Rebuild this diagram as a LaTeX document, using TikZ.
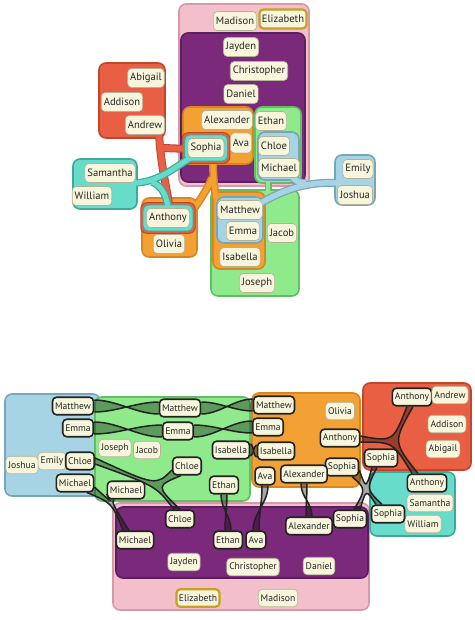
\documentclass[tikz,border=0pt]{standalone}
\usepackage{fontspec}
\setmainfont{PT Sans}
\usetikzlibrary{calc}
\pgfdeclarelayer{bg}
\pgfsetlayers{bg,main}
\definecolor{pinkF}{HTML}{F3BFCB}\definecolor{pinkB}{HTML}{D49AAA}
\definecolor{purpF}{HTML}{7B2A7B}\definecolor{purpB}{HTML}{5B1F5E}
\definecolor{orF}{HTML}{F3A135}\definecolor{orB}{HTML}{D9861E}
\definecolor{grF}{HTML}{8FEA8C}\definecolor{grB}{HTML}{62BD66}
\definecolor{blF}{HTML}{A7D4E4}\definecolor{blB}{HTML}{77A6BA}
\definecolor{rdF}{HTML}{E95F43}\definecolor{rdB}{HTML}{C2452D}
\definecolor{tlF}{HTML}{67DCCB}\definecolor{tlB}{HTML}{3EAA9B}
\definecolor{goldB}{HTML}{C7A020}
\definecolor{ndF}{HTML}{F7F5DC}\definecolor{ndB}{HTML}{B5B198}
\definecolor{txt}{HTML}{262626}\definecolor{blk}{HTML}{222222}
\newcommand\hbund[3]{%
 \fill[bfill] ([yshift=6pt]#1.east) .. controls +(#3,0) and +(-#3,0) .. ([yshift=-6pt]#2.west) -- ([yshift=6pt]#2.west) .. controls +(-#3,0) and +(#3,0) .. ([yshift=-6pt]#1.east) -- cycle;
 \draw[bline] ([yshift=6pt]#1.east) .. controls +(#3,0) and +(-#3,0) .. ([yshift=-6pt]#2.west) ([yshift=6pt]#2.west) .. controls +(-#3,0) and +(#3,0) .. ([yshift=-6pt]#1.east);}
\newcommand\vbund[3]{%
 \fill[bfill] ([xshift=-3pt]#1.south) .. controls +(0,#3) and +(0,-#3) .. ([xshift=3pt]#2.north) -- ([xshift=-3pt]#2.north) .. controls +(0,-#3) and +(0,#3) .. ([xshift=3pt]#1.south) -- cycle;
 \draw[bline] ([xshift=-3pt]#1.south) .. controls +(0,#3) and +(0,-#3) .. ([xshift=3pt]#2.north) ([xshift=-3pt]#2.north) .. controls +(0,-#3) and +(0,#3) .. ([xshift=3pt]#1.south);}
\newcommand\kelpThree[7]{%
 \fill[bfill] (#2) .. controls (#7) and (#7) .. (#3) -- (#4) .. controls (#7) and (#7) .. (#5) -- (#6) .. controls (#7) and (#7) .. (#1) -- cycle;
 \draw[bline] (#2) .. controls (#7) and (#7) .. (#3) (#4) .. controls (#7) and (#7) .. (#5) (#6) .. controls (#7) and (#7) .. (#1);}
\newcommand\kelpFour[9]{%
 \fill[bfill] (#2) .. controls (#9) and (#9) .. (#3) -- (#4) .. controls (#9) and (#9) .. (#5) -- (#6) .. controls (#9) and (#9) .. (#7) -- (#8) .. controls (#9) and (#9) .. (#1) -- cycle;
 \draw[bline] (#2) .. controls (#9) and (#9) .. (#3) (#4) .. controls (#9) and (#9) .. (#5) (#6) .. controls (#9) and (#9) .. (#7) (#8) .. controls (#9) and (#9) .. (#1);}
\begin{document}
\begin{tikzpicture}[x=1pt,y=-1pt,
 nd/.style={draw=ndB,fill=ndF,line width=0.6pt,rounded corners=4pt,inner xsep=2.5pt,inner ysep=2pt,minimum height=17.5pt,font=\fontsize{9.6}{11}\selectfont,text=txt},
 ndt/.style={nd,minimum height=19pt,font=\fontsize{10.6}{12}\selectfont},
 ndk/.style={nd,draw=blk,line width=1.6pt},
 ndg/.style={nd,draw=goldB,line width=2.2pt},
 setbox/.style={line width=1.6pt,rounded corners=7pt},
 pinkS/.style={setbox,draw=pinkB,fill=pinkF},
 purpS/.style={setbox,draw=purpB,fill=purpF},
 orS/.style={setbox,draw=orB,fill=orF},
 grS/.style={setbox,draw=grB,fill=grF},
 blS/.style={setbox,draw=blB,fill=blF},
 rdS/.style={setbox,draw=rdB,fill=rdF},
 tlS/.style={setbox,draw=tlB,fill=tlF},
 bfill/.style={fill=black,fill opacity=0.34},
 bline/.style={draw=blk,line width=1.5pt},
 stemo/.style={line width=#1,line cap=butt},
]
\useasboundingbox (0,0) rectangle (474,620);
% ---------- top diagram nodes
\node[ndt] (tMad) at (235,21) {Madison};
\node[ndt,draw=goldB,line width=2.2pt] (tEli) at (283,19) {Elizabeth};
\node[ndt] (tJay) at (241,47) {Jayden};
\node[ndt] (tChr) at (259,71) {Christopher};
\node[ndt] (tDan) at (241,94) {Daniel};
\node[ndt] (tAle) at (227,120) {Alexander};
\node[ndt,minimum height=20pt] (tAva) at (241,143) {Ava};
\node[ndt] (tSop) at (206,148) {Sophia};
\node[ndt] (tEth) at (271,121) {Ethan};
\node[ndt] (tChl) at (274,146) {Chloe};
\node[ndt] (tMic) at (279,168) {Michael};
\node[ndt] (tAbi) at (146,78) {Abigail};
\node[ndt] (tAdd) at (122,102) {Addison};
\node[ndt] (tAnd) at (145,125) {Andrew};
\node[ndt] (tSam) at (110,173) {Samantha};
\node[ndt] (tWil) at (92,196) {William};
\node[ndt] (tAnt) at (168,218) {Anthony};
\node[ndt] (tOli) at (169,244) {Olivia};
\node[ndt] (tMat) at (240,210) {Matthew};
\node[ndt] (tEmm) at (243,231) {Emma};
\node[ndt] (tIsa) at (240,257) {Isabella};
\node[ndt] (tJac) at (282,233) {Jacob};
\node[ndt] (tJos) at (257,283) {Joseph};
\node[ndt] (tEmi) at (358,169) {Emily};
\node[ndt] (tJsh) at (355,195) {Joshua};
% ---------- bottom diagram nodes
\node[ndk] (bMat) at (73,406) {Matthew};
\node[ndk] (bEmm) at (78,428) {Emma};
\node[nd] (bJos) at (22,465) {Joshua};
\node[nd] (bEmi) at (52,461) {Emily};
\node[ndk] (bChl) at (80,461) {Chloe};
\node[ndk] (bMic) at (75,483) {Michael};
\node[ndk] (gMat) at (180,408) {Matthew};
\node[ndk] (gEmm) at (178,431) {Emma};
\node[nd] (gJose) at (115,448) {Joseph};
\node[nd] (gJac) at (147,450) {Jacob};
\node[ndk] (gIsa) at (231,450) {Isabella};
\node[ndk] (gChl) at (187,466) {Chloe};
\node[ndk] (gMic) at (126,490) {Michael};
\node[ndk] (gEth) at (224,485) {Ethan};
\node[ndk] (oMat) at (274,405) {Matthew};
\node[ndk] (oEmm) at (268,427) {Emma};
\node[ndk] (oIsa) at (276,451) {Isabella};
\node[nd] (oOli) at (340,411) {Olivia};
\node[ndk] (oAnt) at (340,438) {Anthony};
\node[ndk] (oSop) at (342,467) {Sophia};
\node[ndk] (oAva) at (265,476) {Ava};
\node[ndk] (oAle) at (304,474) {Alexander};
\node[ndk] (rAnt) at (412,397) {Anthony};
\node[nd] (rAnd) at (450,395) {Andrew};
\node[nd] (rAdd) at (447,424) {Addison};
\node[nd] (rAbi) at (443,449) {Abigail};
\node[ndk] (rSop) at (381,458) {Sophia};
\node[ndk] (tlAnt) at (427,483) {Anthony};
\node[nd] (tlSam) at (430,503) {Samantha};
\node[nd] (tlWil) at (423,524) {William};
\node[ndk] (tlSop) at (388,514) {Sophia};
\node[ndk] (pMic) at (135,540) {Michael};
\node[ndk] (pChl) at (180,519) {Chloe};
\node[ndk] (pEth) at (228,540) {Ethan};
\node[ndk] (pAva) at (256,540) {Ava};
\node[ndk] (pAle) at (309,526) {Alexander};
\node[ndk] (pSop) at (350,519) {Sophia};
\node[nd] (pJay) at (184,562) {Jayden};
\node[nd] (pChr) at (253,567) {Christopher};
\node[nd] (pDan) at (319,566) {Daniel};
\node[ndg] (kEli) at (198,598) {Elizabeth};
\node[nd] (kMad) at (278,598) {Madison};

\begin{pgfonlayer}{bg}
% ===== top diagram sets
\draw[pinkS] (179,4) rectangle (309,186);
\draw[purpS] (181,33) rectangle (305,182);
% green
\draw[stemo=7pt,draw=grB] (268,176) -- (268,196);
\draw[grS] (255,107) rectangle (301,183);
\draw[grS] (211,190) rectangle (299,296);
\draw[stemo=4.5pt,draw=grF] (268,176) -- (268,196);
% orange
\draw[stemo=8pt,draw=orB] (213,160) .. controls (213,175) and (214,185) .. (216,199)
  (212,178) .. controls (207,190) and (200,200) .. (193,210);
\draw[orS] (183,107) rectangle (253,164);
\draw[orS] (142,198) rectangle (197,257);
\draw[orS] (213,192) rectangle (265,269);
\draw[stemo=5pt,draw=orF] (213,160) .. controls (213,175) and (214,185) .. (216,199)
  (212,178) .. controls (207,190) and (200,200) .. (193,210);
% blue
\draw[stemo=8pt,draw=blB] (337,183) .. controls (312,182) and (290,186) .. (259,204)
  (306,183) .. controls (298,183) and (294,180) .. (291,175);
\draw[blS] (258,132) rectangle (299,180);
\draw[blS] (217,197) rectangle (263,243);
\draw[blS] (335,155) rectangle (375,205);
\draw[stemo=5.5pt,draw=blF] (337,183) .. controls (312,182) and (290,186) .. (259,204)
  (306,183) .. controls (298,183) and (294,180) .. (291,175);
% red
\draw[stemo=8pt,draw=rdB] (159,132) .. controls (160,160) and (166,185) .. (169,204)
  (163,148) -- (190,149);
\draw[rdS] (99,63) rectangle (165,138);
\draw[rdS,rounded corners=6pt,line width=1pt] ([shift={(-5.5,-5.5)}]tSop.north west) rectangle ([shift={(5.5,5.5)}]tSop.south east);
\draw[rdS,rounded corners=6pt,line width=1pt] ([shift={(-5.5,-5.5)}]tAnt.north west) rectangle ([shift={(5.5,5.5)}]tAnt.south east);
\draw[stemo=6pt,draw=rdF] (159,132) .. controls (160,160) and (166,185) .. (169,204)
  (163,148) -- (190,149);
% teal
\draw[stemo=7.5pt,draw=tlB] (133,183) .. controls (160,183) and (178,164) .. (194,156)
  (152,182) .. controls (162,186) and (166,195) .. (168,207);
\draw[tlS] (73,159) rectangle (137,209);
\draw[tlS,rounded corners=5pt,line width=0.8pt] ([shift={(-3.2,-3.2)}]tSop.north west) rectangle ([shift={(3.2,3.2)}]tSop.south east);
\draw[tlS,rounded corners=5pt,line width=0.8pt] ([shift={(-3.2,-3.2)}]tAnt.north west) rectangle ([shift={(3.2,3.2)}]tAnt.south east);
\draw[stemo=5pt,draw=tlF] (133,183) .. controls (160,183) and (178,164) .. (194,156)
  (152,182) .. controls (162,186) and (166,195) .. (168,207);
% ===== bottom diagram sets
\draw[pinkS] (113,503) rectangle (369,610);
\draw[purpS] (116,507) rectangle (368,578);
\draw[blS] (5,394) rectangle (100,496);
\draw[grS] (95,397) rectangle (250,501);
\draw[orS] (252,393) rectangle (360,487);
\draw[rdS] (363,383) rectangle (471,470);
\draw[tlS] (370,472) rectangle (455,536);
% ===== bundled links
\hbund{bMat}{gMat}{22}
\hbund{gMat}{oMat}{18}
\hbund{bEmm}{gEmm}{24}
\hbund{gEmm}{oEmm}{20}
\hbund{gIsa}{oIsa}{3}
\vbund{gEth}{pEth}{15}
\vbund{oAva}{pAva}{18}
\vbund{oAle}{pAle}{14}
% Chloe
\coordinate (cLb) at ([yshift=3pt]bChl.east);
\coordinate (cLa) at ([yshift=-3pt]bChl.east);
\coordinate (cGa) at ([yshift=-4pt]gChl.west);
\coordinate (cGb) at ([xshift=-6pt]gChl.south);
\coordinate (cPa) at ([xshift=0pt]pChl.north);
\coordinate (cPb) at ([xshift=-6pt]pChl.north);
\coordinate (cJ) at (156,486);
\kelpThree{cLa}{cLb}{cGa}{cGb}{cPa}{cPb}{cJ}
% Michael
\coordinate (mLb) at ([yshift=-4pt]bMic.east);
\coordinate (mLa) at ([xshift=12pt]bMic.south);
\coordinate (mGa) at ([yshift=-4pt]gMic.west);
\coordinate (mGb) at ([xshift=-12pt]gMic.south);
\coordinate (mPa) at ([xshift=-6pt]pMic.north);
\coordinate (mPb) at ([xshift=-12pt]pMic.north);
\coordinate (mJ) at (112,503);
\kelpThree{mLa}{mLb}{mGa}{mGb}{mPa}{mPb}{mJ}
% Anthony
\coordinate (aOb) at ([yshift=2pt]oAnt.east);
\coordinate (aOa) at ([yshift=-4pt]oAnt.east);
\coordinate (aRa) at ([xshift=-5pt]rAnt.south);
\coordinate (aRb) at ([xshift=1pt]rAnt.south);
\coordinate (aTa) at ([xshift=-9pt]tlAnt.north);
\coordinate (aTb) at ([xshift=-15pt]tlAnt.north);
\coordinate (aJ) at (393,442);
\kelpThree{aOa}{aOb}{aRa}{aRb}{aTa}{aTb}{aJ}
% Sophia
\coordinate (sOb) at ([yshift=-3pt]oSop.east);
\coordinate (sOa) at ([xshift=10pt]oSop.south);
\coordinate (sRa) at ([xshift=-9pt]rSop.south);
\coordinate (sRb) at ([xshift=-4pt]rSop.south);
\coordinate (sTa) at ([xshift=-6pt]tlSop.north);
\coordinate (sTb) at ([xshift=-12pt]tlSop.north);
\coordinate (sPa) at ([xshift=10pt]pSop.north);
\coordinate (sPb) at ([xshift=4pt]pSop.north);
\coordinate (sJ) at (366,489);
\kelpFour{sOa}{sOb}{sRa}{sRb}{sTa}{sTb}{sPa}{sPb}{sJ}
\end{pgfonlayer}
\end{tikzpicture}
\end{document}
